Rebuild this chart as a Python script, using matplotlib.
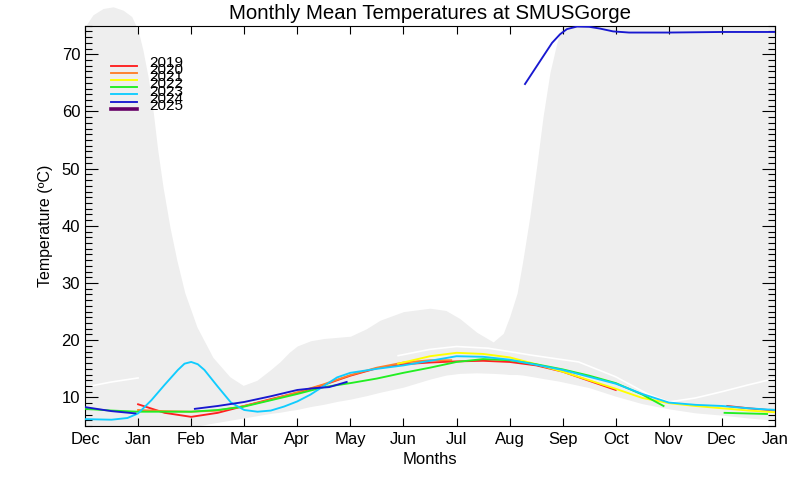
import numpy as np
import matplotlib
matplotlib.use('Agg')
import matplotlib.pyplot as plt
from matplotlib.ticker import MultipleLocator

plt.rcParams['font.family'] = ['Liberation Sans', 'DejaVu Sans']

nan = np.nan
month_labels = ['Dec', 'Jan', 'Feb', 'Mar', 'Apr', 'May', 'Jun', 'Jul',
                'Aug', 'Sep', 'Oct', 'Nov', 'Dec', 'Jan']

# grey range band (min / max envelope), x in months from Dec
band_x = [0, 0.15, 0.34, 0.53, 0.72, 0.88, 1.0, 1.09, 1.19, 1.28, 1.37, 1.47, 1.6, 1.73,
          1.88, 2.11, 2.41, 2.73, 2.98, 3.24, 3.49, 3.67, 3.85, 4.0, 4.25, 4.5, 4.75, 5.0,
          5.3, 5.56, 6.0, 6.5, 6.8, 7.06, 7.38, 7.69, 7.88, 8.0, 8.14, 8.25, 8.38, 8.51,
          8.63, 8.76, 8.89, 8.95, 9.0, 9.5, 10, 10.5, 11, 11.5, 12, 12.5, 13]
band_hi = [74.8, 76.9, 78.0, 78.3, 77.7, 76.6, 74.2, 70.8, 66.0, 60.3, 53.3, 46.8, 39.8,
           34.0, 28.3, 22.3, 17.0, 13.6, 12.1, 13.0, 14.8, 16.2, 17.9, 19.0, 19.9, 20.3,
           20.5, 20.7, 22.0, 23.5, 25.0, 25.6, 25.2, 23.8, 21.4, 19.7, 21.2, 24.1, 28.2,
           34.0, 41.6, 50.4, 59.1, 66.8, 72.0, 74.0, 75, 75, 75, 75, 75, 75, 75, 75, 75]
band_lo = [5, 5, 5, 5, 5, 5, 5, 5, 5, 5, 5, 5, 5, 5, 5, 5, 5.5, 6.0, 6.4, 6.8, 7.2, 7.4,
           7.7, 7.9, 8.4, 8.8, 9.3, 9.7, 10.3, 10.9, 11.8, 13.2, 13.9, 14.2, 14.3, 14.2,
           14.1, 14.0, 14.0, 13.9, 13.7, 13.5, 13.3, 13.1, 12.9, 12.8, 12.7, 11.7, 10.2,
           8.9, 8.0, 7.3, 6.9, 6.4, 6.0]

# white climatology line
clim_x = [0, 0.5, 1.0, nan, 5.9, 6.5, 7.0, 7.6, 8.4, 9.3, 10.0, 10.6, 11.0, 11.5, 12.0, 12.5, 13.0]
clim_y = [11.8, 12.7, 13.4, nan, 17.3, 18.4, 18.9, 18.6, 17.4, 16.2, 13.6, 10.6, 9.2, 9.9,
          11.0, 12.2, 13.3]

years = ['2019', '2020', '2021', '2022', '2023', '2024', '2025']
colors = ['#ff2020', '#ff7f2a', '#ffff00', '#22ee22', '#10ccff', '#1818d0', '#660066']

x2019 = [1.0, 1.5, 2.0, 2.5, 3.0, 3.5, 4.0, 4.5, 5.0, 5.5, 6.0, 6.5, 7.0, 7.5, 8.0, 8.5,
         9.0, 9.5, 10.0, nan, 12.1, 12.5, 13.0]
t2019 = [8.8, 7.3, 6.6, 7.3, 8.5, 9.7, 10.8, 12.2, 13.8, 15.1, 15.8, 16.1, 16.3, 16.4, 16.2,
         15.6, 14.5, 12.9, 11.3, nan, 8.5, 8.1, 7.7]

x2020 = [1.0, 1.5, 2.0, 2.5, 3.0, 3.5, 4.0, 4.5, 5.0, 5.5, 6.0, 6.5, 6.9]
t2020 = [7.8, 7.6, 7.5, 7.7, 8.5, 9.6, 10.9, 12.3, 13.9, 15.2, 16.1, 16.5, 16.5]

x2021 = [5.9, 6.5, 7.0, 7.5, 8.0, 8.5, 9.0, 9.5, 10.0, 10.5, 11.0, 11.5, 12.0, 12.5, 13.0]
t2021 = [15.9, 17.2, 17.8, 17.6, 17.0, 15.8, 14.5, 13.0, 11.5, 9.9, 9.0, 8.5, 8.1, 7.7, 7.4]

x2022 = [0, 0.5, 1.0, 1.5, 2.0, 2.5, 3.0, 3.5, 4.0, 4.5, 5.0, 5.5, 6.0, 6.5, 7.0, 7.5, 8.0,
         8.5, 9.0, 9.5, 10.0, 10.5, 10.9, nan, 12.05, 12.45, 12.85]
t2022 = [8.0, 7.7, 7.5, 7.5, 7.5, 7.8, 8.4, 9.5, 10.6, 11.8, 12.5, 13.3, 14.3, 15.2, 16.2,
         16.7, 16.5, 15.8, 14.9, 13.8, 12.5, 10.5, 8.5, nan, 7.3, 7.2, 7.1]

x2023 = [0, 0.5, 0.8, 1.0, 1.25, 1.5, 1.75, 1.875, 2.0, 2.125, 2.25, 2.5, 2.75, 3.0, 3.25,
         3.5, 3.75, 4.0, 4.25, 4.5, 4.75, 5.0, 5.5, 6.0, 6.5, 7.0, 7.5, 8.0, 8.5, 9.0, 9.5,
         10.0, 10.5, 11.0, 11.5, 12.0, 12.5, 13.0]
t2023 = [6.2, 6.1, 6.4, 7.2, 9.5, 12.2, 14.8, 15.9, 16.2, 15.8, 14.8, 11.9, 9.1, 7.8, 7.5,
         7.7, 8.4, 9.3, 10.5, 12.0, 13.5, 14.3, 15.0, 15.6, 16.4, 17.2, 17.1, 16.6, 15.7,
         14.8, 13.6, 12.4, 10.6, 9.1, 8.7, 8.5, 8.1, 7.8]

x2024 = [0, 0.5, 0.95, nan, 2.07, 2.5, 3.0, 3.5, 4.0, 4.3, 4.6, 4.93, nan,
         8.29, 8.8, 8.95, 9.08, 9.27, 9.5, 9.7, 9.95, 10.25, 11.0, 12.0, 13.0]
t2024 = [8.3, 7.6, 7.2, nan, 8.0, 8.5, 9.2, 10.2, 11.3, 11.6, 11.8, 12.7, nan,
         64.8, 72.0, 73.5, 74.4, 74.85, 74.8, 74.5, 74.0, 73.8, 73.8, 73.9, 73.9]

series = [(x2019, t2019), (x2020, t2020), (x2021, t2021), (x2022, t2022),
          (x2023, t2023), (x2024, t2024)]

fig = plt.figure(figsize=(8, 4.8), dpi=100)
ax = fig.add_axes([0.10625, 0.1125, 0.8625, 0.834])

ax.fill_between(band_x, band_lo, band_hi, color='#eeeeee', lw=0, clip_on=False, zorder=0)
ax.plot(clim_x, clim_y, color='white', lw=1.2, zorder=1)

order = [1, 0, 2, 3, 4, 5]
for i in order:
    xs, ts = series[i]
    ax.plot(xs, ts, color=colors[i], lw=1.35, zorder=2 + i)

# legend drawn by hand, IDL style (labels overlap)
for i, yr in enumerate(years):
    yy = 0.900 - i * 0.0179
    lw = 2.6 if yr == '2025' else 1.35
    ax.plot([0.0377, 0.0754], [yy, yy], color=colors[i], lw=lw, transform=ax.transAxes,
            zorder=10)
    ax.text(0.0928, yy - 0.003, yr, fontsize=11, va='baseline', ha='left',
            transform=ax.transAxes, zorder=10)

ax.set_xlim(0, 13)
ax.set_ylim(5, 75)
ax.set_xticks(range(14))
ax.set_xticklabels(month_labels)
ax.yaxis.set_major_locator(MultipleLocator(10))
ax.yaxis.set_minor_locator(MultipleLocator(1))
ax.tick_params(axis='x', direction='in', length=6, width=0.8, top=True, labelsize=12, pad=4.5)
ax.tick_params(axis='y', which='major', direction='in', length=9.5, width=0.8, right=True,
               labelsize=12, pad=3.5)
ax.tick_params(axis='y', which='minor', direction='in', length=5, width=0.8, right=True)
for s in ax.spines.values():
    s.set_linewidth(0.8)

ax.set_title('Monthly Mean Temperatures at SMUSGorge', fontsize=14.7, pad=5)
ax.set_xlabel('Months', fontsize=12, labelpad=3.5)
ax.set_ylabel('Temperature (ºC)', fontsize=11.5, labelpad=6)

fig.savefig('out.png', dpi=100)
